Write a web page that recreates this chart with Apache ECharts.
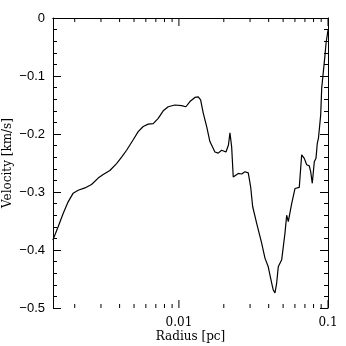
<!DOCTYPE html>
<html>
<head>
<meta charset="utf-8">
<script src="https://cdn.jsdelivr.net/npm/echarts@6/dist/echarts.min.js"></script>
<style>
  html, body { margin: 0; padding: 0; background: #fff; }
  #chart { width: 346px; height: 346px; }
</style>
</head>
<body>
<div id="chart"></div>
<script>
// radius [pc] and infall velocity [km/s]
const radius = [
  0.001427, 0.001548, 0.001673, 0.001807, 0.001953, 0.002110, 0.002339, 0.002594,
  0.002873, 0.003104, 0.003442, 0.003818, 0.004125, 0.004457, 0.004935, 0.005331,
  0.005759, 0.006223, 0.006722, 0.007262, 0.007846, 0.008475, 0.009401, 0.01042,
  0.01114, 0.01185, 0.01280, 0.01348, 0.01398, 0.01456, 0.01534, 0.01614,
  0.01744, 0.01835, 0.01934, 0.02068, 0.02149, 0.02199, 0.02258, 0.02314,
  0.02376, 0.02500, 0.02636, 0.02773, 0.02918, 0.03028, 0.03123, 0.03323,
  0.03589, 0.03777, 0.03974, 0.04190, 0.04295, 0.04409, 0.04526, 0.04639,
  0.04890, 0.05145, 0.05282, 0.05415, 0.05706, 0.06004, 0.06417, 0.06659,
  0.06932, 0.07194, 0.07489, 0.07653, 0.07845, 0.08092, 0.08307, 0.08475,
  0.08633, 0.08933, 0.09072, 0.09300, 0.09548, 0.09696, 0.09893, 0.1
]
const velocity = [
  -0.383, -0.360, -0.337, -0.317, -0.302, -0.297, -0.293, -0.287,
  -0.276, -0.270, -0.263, -0.251, -0.240, -0.228, -0.210, -0.196,
  -0.187, -0.183, -0.182, -0.173, -0.160, -0.153, -0.150, -0.151,
  -0.153, -0.144, -0.137, -0.136, -0.141, -0.164, -0.187, -0.213,
  -0.231, -0.233, -0.228, -0.231, -0.219, -0.198, -0.222, -0.274,
  -0.276, -0.268, -0.269, -0.265, -0.267, -0.291, -0.325, -0.354,
  -0.388, -0.414, -0.429, -0.457, -0.469, -0.474, -0.457, -0.429,
  -0.417, -0.371, -0.340, -0.351, -0.320, -0.294, -0.292, -0.236,
  -0.242, -0.253, -0.255, -0.265, -0.285, -0.248, -0.242, -0.216,
  -0.207, -0.167, -0.121, -0.118, -0.064, -0.044, -0.029, -0.021
]

// axis ticks
const xMin = 0.00143
const xMax = 0.1
const xMajorTicks = [0.01, 0.1]
const xTickLabels = ['0.01', '0.1']
const xMinorTicks = [0.002, 0.003, 0.004, 0.005, 0.006, 0.007, 0.008, 0.009,
  0.02, 0.03, 0.04, 0.05, 0.06, 0.07, 0.08, 0.09]
const yMin = -0.5
const yMax = 0
const yStep = 0.1

const chart = echarts.init(document.getElementById('chart'))

const serif = 'DejaVu Serif'
const sans = 'Liberation Sans'
const black = '#000'

function xLabel(v) {
  for (let i = 0; i < xMajorTicks.length; i++) {
    if (Math.abs(v - xMajorTicks[i]) / xMajorTicks[i] < 1e-6) return xTickLabels[i]
  }
  return ''
}

function yLabel(v) {
  if (Math.abs(v) < 1e-9) return '0'
  return (v < 0 ? '\u2212' : '') + Math.abs(v).toFixed(1)
}

// ticks along bottom and top edges of the box, pointing inward
function xTickSeries(values, len) {
  return {
    type: 'custom',
    silent: true,
    clip: false,
    data: values.map(v => [v, yMin]),
    encode: { x: 0, y: 1 },
    renderItem: function (params, api) {
      const v = api.value(0)
      const b = api.coord([v, yMin])
      const t = api.coord([v, yMax])
      const st = { stroke: black, lineWidth: 1 }
      return {
        type: 'group',
        children: [
          { type: 'line', shape: { x1: b[0], y1: b[1], x2: b[0], y2: b[1] - len }, style: st },
          { type: 'line', shape: { x1: t[0], y1: t[1], x2: t[0], y2: t[1] + len }, style: st }
        ]
      }
    }
  }
}

const xCommon = {
  type: 'log',
  logBase: 10,
  min: xMin,
  max: xMax,
  splitLine: { show: false },
  axisLine: { show: true, lineStyle: { color: black, width: 1 } },
  axisTick: { show: false }
}

const yCommon = {
  type: 'value',
  min: yMin,
  max: yMax,
  interval: yStep,
  splitLine: { show: false },
  axisLine: { show: true, onZero: false, lineStyle: { color: black, width: 1 } },
  axisTick: { show: true, inside: true, length: 8, lineStyle: { color: black } },
  minorTick: { show: true, splitNumber: 5, length: 4, lineStyle: { color: black } }
}

chart.setOption({
  animation: false,
  backgroundColor: '#fff',
  grid: { left: 53, right: 18, top: 18, bottom: 38 },
  graphic: [
    {
      type: 'text', x: 190.5, y: 337,
      style: { text: 'Radius [pc]', fill: black, font: '12px "DejaVu Serif"', align: 'center', verticalAlign: 'middle' }
    },
    {
      type: 'text', x: 8, y: 163, rotation: Math.PI / 2,
      style: { text: 'Velocity [km/s]', fill: black, font: '12px "DejaVu Serif"', align: 'center', verticalAlign: 'middle' }
    }
  ],
  xAxis: [
    Object.assign({}, xCommon, {
      position: 'bottom',
      axisLabel: {
        color: black, fontFamily: serif, fontSize: 12, margin: 9,
        showMinLabel: false, formatter: xLabel
      }
    }),
    Object.assign({}, xCommon, {
      position: 'top',
      axisLabel: { show: false }
    })
  ],
  yAxis: [
    Object.assign({}, yCommon, {
      position: 'left',
      axisLabel: { color: black, fontFamily: sans, fontSize: 13, margin: 8, formatter: yLabel }
    }),
    Object.assign({}, yCommon, {
      position: 'right',
      axisLabel: { show: false }
    })
  ],
  series: [
    {
      type: 'line',
      data: radius.map((r, i) => [r, velocity[i]]),
      showSymbol: false,
      smooth: false,
      lineStyle: { color: black, width: 1.2 },
      silent: true
    },
    xTickSeries(xMajorTicks, 8),
    xTickSeries(xMinorTicks, 4)
  ]
})
</script>
</body>
</html>
